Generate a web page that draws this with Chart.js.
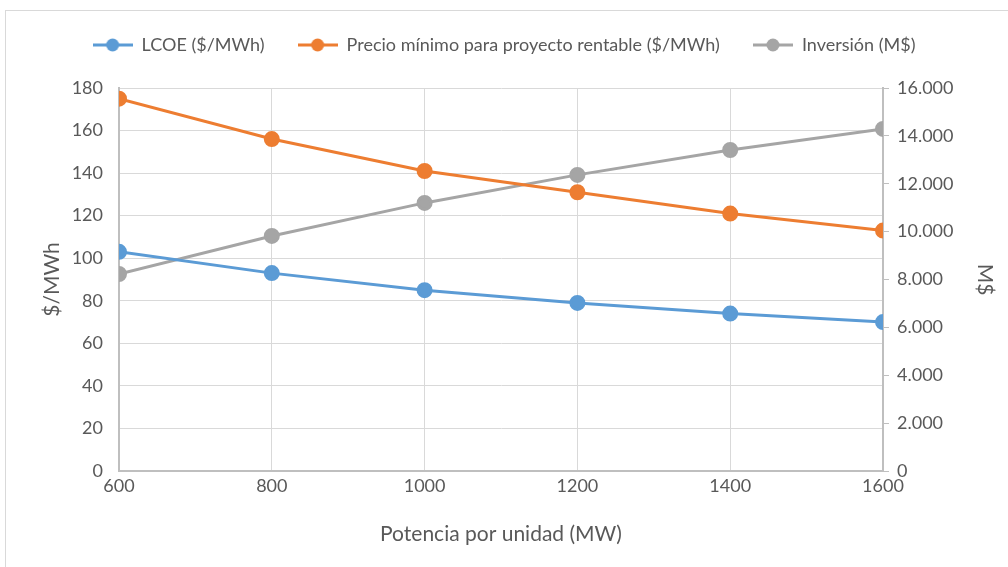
<!DOCTYPE html>
<html>
<head>
<meta charset="utf-8">
<script src="https://cdn.jsdelivr.net/npm/chart.js@4"></script>
<style>
  html, body { margin: 0; padding: 0; background: #fff; }
  #wrap { width: 1008px; height: 567px; position: relative; }
</style>
</head>
<body>
<div id="wrap"><canvas id="myChart"></canvas></div>
<script>
const potencia = [600, 800, 1000, 1200, 1400, 1600];
const lcoe = [103, 93, 85, 79, 74, 70];
const precioMinimo = [175, 156, 141, 131, 121, 113];
const inversion = [8230, 9820, 11200, 12370, 13410, 14290];

const leftTicks = [0, 20, 40, 60, 80, 100, 120, 140, 160, 180];
const rightTicks = [0, 2000, 4000, 6000, 8000, 10000, 12000, 14000, 16000];

const labelFont = 'Lato, "Open Sans", sans-serif';
const textColor = '#595959';

function miles(v) {
  return String(v).replace(/\B(?=(\d{3})+(?!\d))/g, '.');
}

// legend marker: short line with a dot, like the Excel one
function marker(color) {
  const c = document.createElement('canvas');
  c.width = 40; c.height = 14;
  const g = c.getContext('2d');
  g.strokeStyle = color; g.lineWidth = 3;
  g.beginPath(); g.moveTo(0, 7); g.lineTo(40, 7); g.stroke();
  g.fillStyle = color;
  g.beginPath(); g.arc(20, 7, 6.5, 0, Math.PI * 2); g.fill();
  return c;
}

const toPts = (arr) => potencia.map((x, i) => ({ x: x, y: arr[i] }));

const frame = {
  id: 'frame',
  beforeDraw(chart) {
    const c = chart.ctx;
    c.save();
    c.strokeStyle = '#d9d9d9';
    c.lineWidth = 1;
    c.strokeRect(5.5, 10.5, 1100, 700);
    c.restore();
  }
};

const series = [
  { label: 'LCOE ($/MWh)', data: lcoe, color: '#5b9bd5', axis: 'y' },
  { label: 'Precio mínimo para proyecto rentable ($/MWh)', data: precioMinimo, color: '#ed7d31', axis: 'y' },
  { label: 'Inversión (M$)', data: inversion, color: '#a5a5a5', axis: 'y1' }
];
const markers = series.map(s => marker(s.color));

new Chart(document.getElementById('myChart'), {
  type: 'line',
  data: {
    datasets: series.map(s => ({
      label: s.label,
      data: toPts(s.data),
      yAxisID: s.axis,
      borderColor: s.color,
      backgroundColor: s.color,
      borderWidth: 3,
      pointStyle: 'circle',
      pointRadius: 6.5,
      pointHoverRadius: 6.5,
      tension: 0
    }))
  },
  options: {
    responsive: true,
    maintainAspectRatio: false,
    animation: false,
    layout: { padding: { top: 3, right: 0, left: 0, bottom: 0 } },
    plugins: {
      tooltip: { enabled: false },
      legend: {
        position: 'top',
        weight: 3000,
        labels: {
          usePointStyle: true,
          pointStyleWidth: 40,
          color: textColor,
          padding: 33,
          font: { family: labelFont, size: 18 },
          generateLabels: (chart) => {
            const items = Chart.defaults.plugins.legend.labels.generateLabels(chart);
            items.forEach((it, i) => { it.pointStyle = markers[i]; });
            return items;
          }
        }
      },
      // blank title used only as a gap between legend and plot
      title: {
        display: true,
        text: ' ',
        font: { size: 10 },
        padding: { top: 4, bottom: 8 }
      }
    },
    scales: {
      x: {
        type: 'linear',
        min: 600,
        max: 1600,
        afterBuildTicks: (s) => { s.ticks = potencia.map(v => ({ value: v })); },
        afterFit: (s) => { s.height = 96; },
        grid: { color: '#d9d9d9', lineWidth: 1, drawTicks: false },
        border: { color: '#bfbfbf', width: 2 },
        ticks: { color: textColor, padding: 4, font: { family: labelFont, size: 18 }, callback: (v) => String(v) },
        title: { display: true, text: 'Potencia por unidad (MW)', color: textColor, padding: { top: 4, bottom: 20 }, font: { family: labelFont, size: 21 } }
      },
      y: {
        position: 'left',
        min: 0,
        max: 180,
        afterBuildTicks: (s) => { s.ticks = leftTicks.map(v => ({ value: v })); },
        afterFit: (s) => { s.width = 119; },
        grid: { color: '#d9d9d9', lineWidth: 1, drawTicks: false },
        border: { color: '#bfbfbf', width: 2 },
        ticks: { color: textColor, padding: 16, font: { family: labelFont, size: 18 } },
        title: { display: true, text: '$/MWh', color: textColor, padding: { top: 40, bottom: 0 }, font: { family: labelFont, size: 21 } }
      },
      y1: {
        position: 'right',
        min: 0,
        max: 16000,
        afterBuildTicks: (s) => { s.ticks = rightTicks.map(v => ({ value: v })); },
        afterFit: (s) => { s.width = 125; },
        grid: { drawOnChartArea: false, color: '#bfbfbf', tickLength: 6 },
        border: { color: '#bfbfbf', width: 2 },
        ticks: { color: textColor, padding: 8, font: { family: labelFont, size: 18 }, callback: (v) => miles(v) },
        title: { display: true, text: 'M$', color: textColor, padding: { top: 11, bottom: 0 }, font: { family: labelFont, size: 21 } }
      }
    }
  },
  plugins: [frame]
});
</script>
</body>
</html>
